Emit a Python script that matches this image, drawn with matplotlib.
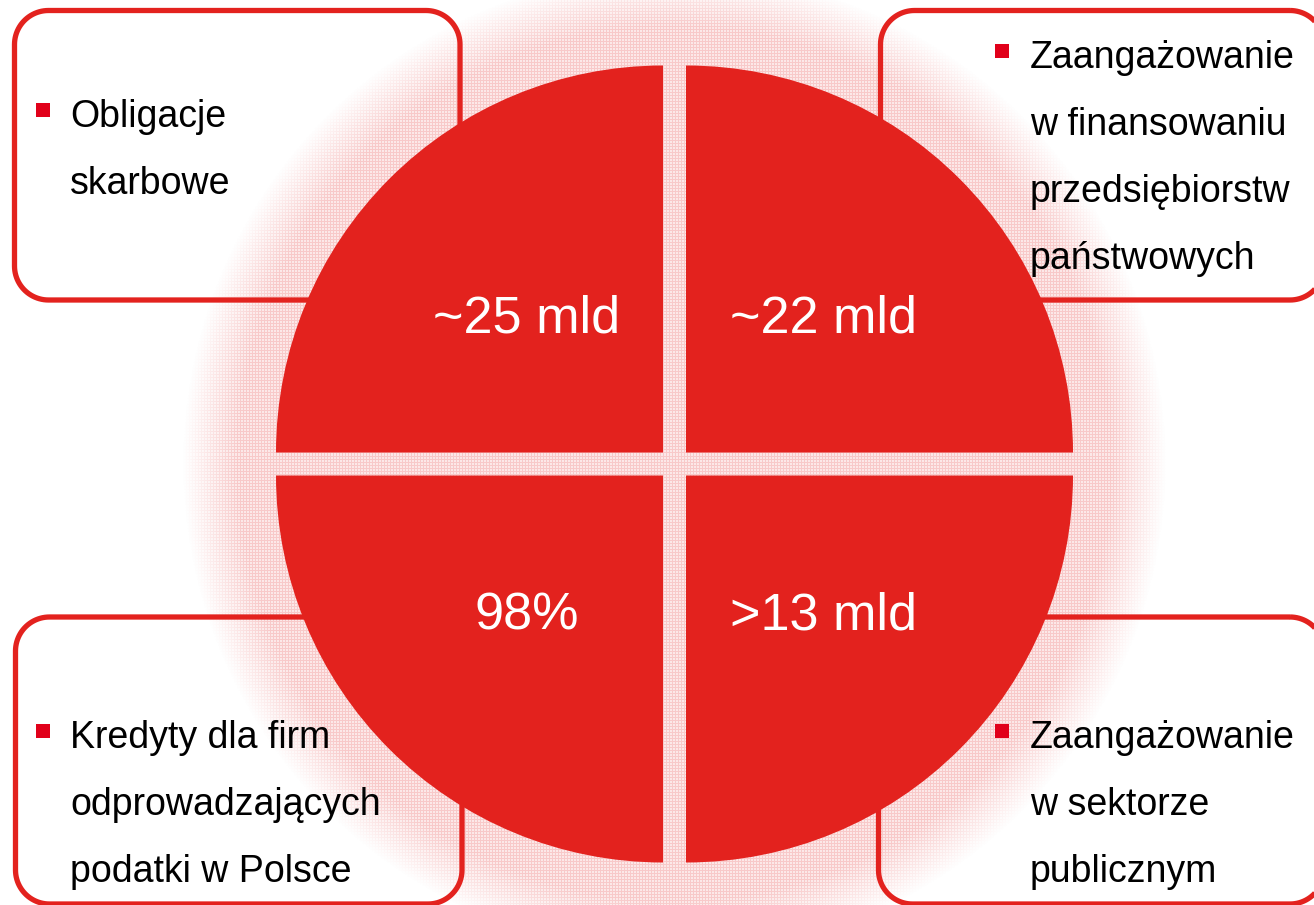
import numpy as np
import matplotlib
matplotlib.use("Agg")
import matplotlib.pyplot as plt
from matplotlib.patches import Wedge, Rectangle, Polygon

# ---- data ----
values = ["~25 mld", "~22 mld", "98%", ">13 mld"]
labels = [
    ["Obligacje", "skarbowe"],
    ["Zaangażowanie", "w finansowaniu", "przedsiębiorstw", "państwowych"],
    ["Kredyty dla firm", "odprowadzających", "podatki w Polsce"],
    ["Zaangażowanie", "w sektorze", "publicznym"],
]

RED = "#E3221E"
BULLET = "#E1001A"
W, H = 1314, 905

plt.rcParams['font.family'] = ['Liberation Sans', 'DejaVu Sans']

fig = plt.figure(figsize=(W / 100, H / 100), dpi=100)
ax = fig.add_axes([0, 0, 1, 1])
ax.set_xlim(0, W)
ax.set_ylim(H, 0)
ax.axis("off")

cx, cy = 674.5, 464.0
gap = 11.5
R = 387

# halo (dotted pink glow)
yy, xx = np.mgrid[0:H, 0:W]
r = np.hypot(xx + 0.5 - cx, yy + 0.5 - cy)
alpha = np.clip((492 - r) / 55.0, 0, 1)
dots = (((xx % 3) == 0) | ((yy % 3) == 0)).astype(float)
img = np.zeros((H, W, 4))
img[..., 0] = 0.93
img[..., 1] = 0.45
img[..., 2] = 0.45
img[..., 3] = alpha * (0.16 + 0.22 * dots)
ax.imshow(img, extent=(0, W, H, 0), zorder=1, interpolation="nearest")


def rounded_rect(x0, y0, x1, y1, rad, n=24):
    pts = []
    corners = [(x1 - rad, y0 + rad, -90, 0), (x1 - rad, y1 - rad, 0, 90),
               (x0 + rad, y1 - rad, 90, 180), (x0 + rad, y0 + rad, 180, 270)]
    for (ccx, ccy, a0, a1) in corners:
        t = np.radians(np.linspace(a0, a1, n))
        pts.extend(zip(ccx + rad * np.cos(t), ccy + rad * np.sin(t)))
    return np.array(pts)


# boxes
boxes = [(14.5, 10.5, 460, 300), (880.5, 10.5, 1324, 300),
         (15.5, 617, 462, 904), (878.5, 617, 1324, 904)]
for (x0, y0, x1, y1) in boxes:
    ax.add_patch(Polygon(rounded_rect(x0, y0, x1, y1, 34), closed=True,
                         fc="none", ec=RED, lw=3.8, zorder=2, joinstyle="round"))

# quarter discs
quads = [((cx - gap, cy - gap), 180, 270),
         ((cx + gap, cy - gap), 270, 360),
         ((cx - gap, cy + gap), 90, 180),
         ((cx + gap, cy + gap), 0, 90)]
for (c, t1, t2) in quads:
    ax.add_patch(Wedge(c, R, t1, t2, fc=RED, ec="none", zorder=3))

# value labels
val_pos = [(527, 332), (823, 332), (527, 629), (823, 629)]
for v, (x, y) in zip(values, val_pos):
    ax.text(x, y, v, color="white", fontsize=37.5, ha="center", va="baseline", zorder=5)

# text labels with bullets
starts = [(70, 36, 127), (1030, 995, 68), (70, 36, 748), (1030, 995, 748)]
step = 67
for lines, (tx, bx, by) in zip(labels, starts):
    ax.add_patch(Rectangle((bx, by - 24), 14, 14, fc=BULLET, ec="none", zorder=5))
    for i, line in enumerate(lines):
        ax.text(tx, by + i * step, line, color="black", fontsize=27,
                ha="left", va="baseline", zorder=5)

fig.savefig("out.png", dpi=100, facecolor="white")
